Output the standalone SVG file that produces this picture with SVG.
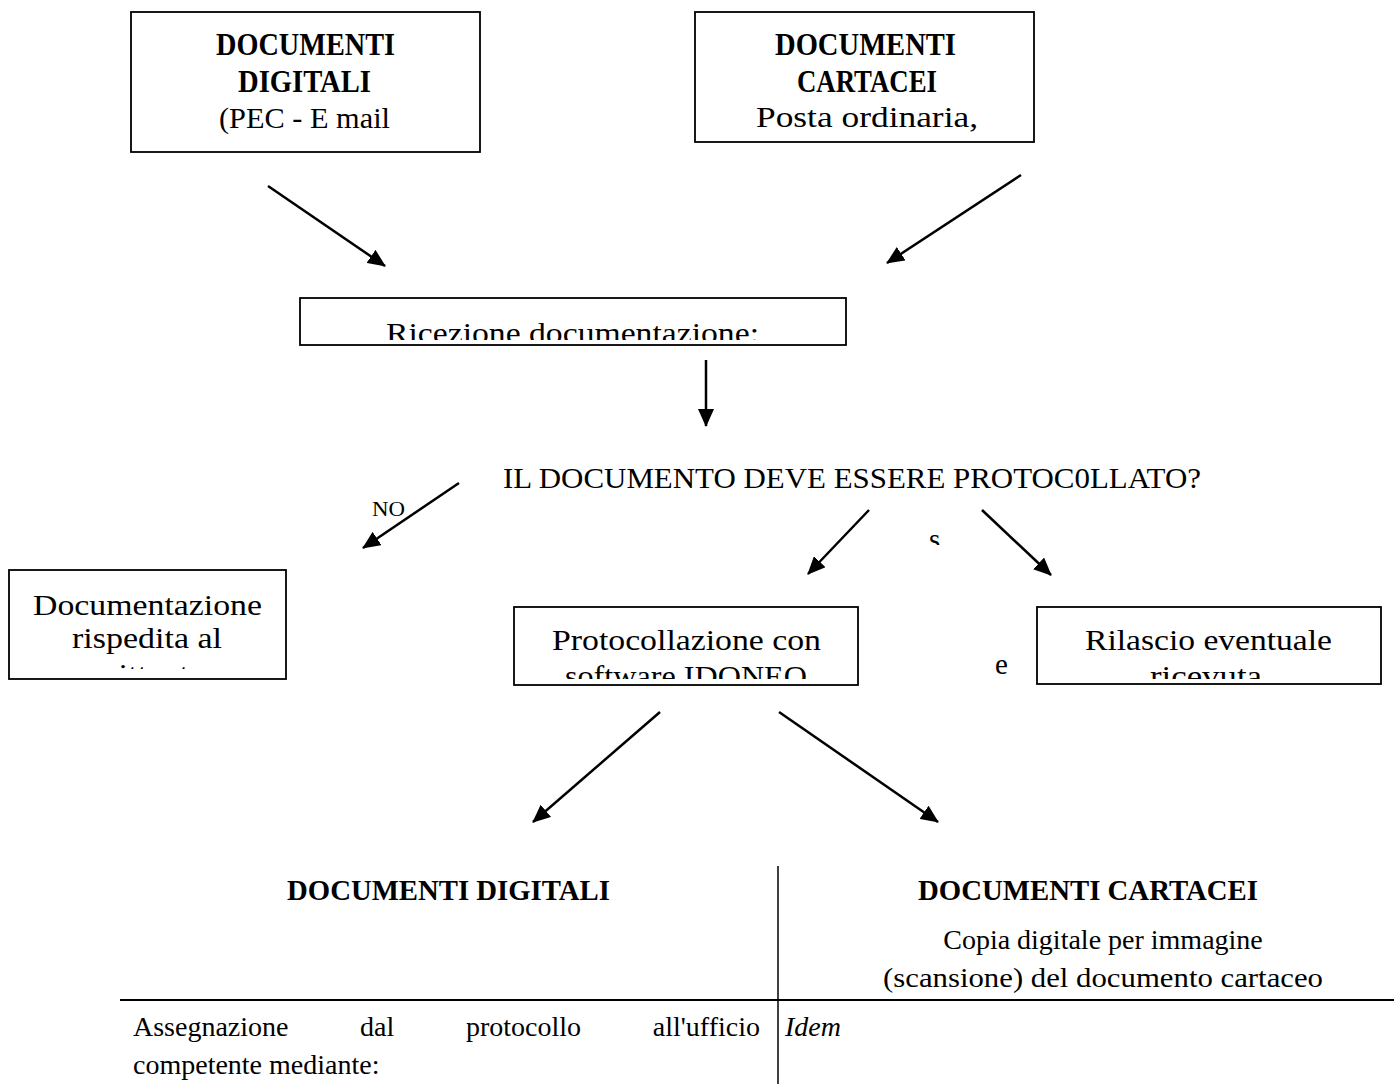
<svg xmlns="http://www.w3.org/2000/svg" width="1394" height="1084" viewBox="0 0 1394 1084">
<style>
.box{fill:#fff;stroke:#000;stroke-width:1.8}
.t{font-family:"Liberation Serif","DejaVu Serif",serif;font-size:29px;fill:#000}
.h{font-size:31px;font-weight:bold}
.tb{font-weight:bold}
.sm{font-size:21px}
.tbl{font-size:28px}
.it{font-style:italic}
.conn{stroke:#000;stroke-width:2.5;fill:none;marker-end:url(#ah)}
.rule{stroke:#000;fill:none}
</style>
<defs>
<marker id="ah" markerUnits="userSpaceOnUse" markerWidth="18" markerHeight="16" refX="17" refY="8" orient="auto">
<path d="M0,0 L18,8 L0,16 z" fill="#000"/>
</marker>
<clipPath id="cRic"><rect x="300" y="298" width="546" height="42"/></clipPath>
<clipPath id="cDoc"><rect x="9" y="570" width="277" height="99"/></clipPath>
<clipPath id="cProt"><rect x="514" y="607" width="344" height="72"/></clipPath>
<clipPath id="cRil"><rect x="1037" y="607" width="344" height="72"/></clipPath>
<clipPath id="cS"><rect x="920" y="530" width="30" height="15"/></clipPath>
</defs>
<rect width="1394" height="1084" fill="#fff"/>

<g id="connectors">
<line class="conn" x1="268" y1="186" x2="385" y2="266"/>
<line class="conn" x1="1021" y1="175" x2="887" y2="263"/>
<line class="conn" x1="706" y1="360" x2="706" y2="426"/>
<line class="conn" x1="459" y1="483" x2="363" y2="548"/>
<line class="conn" x1="869" y1="510" x2="808" y2="574"/>
<line class="conn" x1="982" y1="510" x2="1051" y2="575"/>
<line class="conn" x1="660" y1="712" x2="533" y2="822"/>
<line class="conn" x1="779" y1="712" x2="938" y2="822"/>
</g>

<g id="node-digitali">
<rect class="box" x="131" y="12" width="349" height="140"/>
<text class="t h" x="216" y="55" textLength="179" lengthAdjust="spacingAndGlyphs">DOCUMENTI</text>
<text class="t h" x="238" y="92" textLength="133" lengthAdjust="spacingAndGlyphs">DIGITALI</text>
<text class="t" x="219" y="128" textLength="171" lengthAdjust="spacingAndGlyphs">(PEC - E mail</text>
</g>

<g id="node-cartacei">
<rect class="box" x="695" y="12" width="339" height="130"/>
<text class="t h" x="775" y="55" textLength="181" lengthAdjust="spacingAndGlyphs">DOCUMENTI</text>
<text class="t h" x="797" y="92" textLength="140" lengthAdjust="spacingAndGlyphs">CARTACEI</text>
<text class="t" x="756" y="127" textLength="222" lengthAdjust="spacingAndGlyphs">Posta ordinaria,</text>
</g>

<g id="node-ricezione">
<rect class="box" x="300" y="298" width="546" height="47"/>
<text class="t" x="386" y="343" textLength="373" lengthAdjust="spacingAndGlyphs" clip-path="url(#cRic)">Ricezione documentazione:</text>
</g>

<g id="node-domanda">
<text class="t" x="503" y="488" textLength="698" lengthAdjust="spacingAndGlyphs">IL DOCUMENTO DEVE ESSERE PROTOC0LLATO?</text>
</g>

<g id="label-no">
<text class="t sm" x="372" y="516" textLength="33" lengthAdjust="spacingAndGlyphs">NO</text>
</g>

<g id="label-si">
<text class="t" x="929" y="549" font-size="26" clip-path="url(#cS)">s</text>
</g>

<g id="node-rispedita">
<rect class="box" x="9" y="570" width="277" height="109"/>
<text class="t" x="33" y="615" textLength="229" lengthAdjust="spacingAndGlyphs">Documentazione</text>
<text class="t" x="72" y="648" textLength="150" lengthAdjust="spacingAndGlyphs">rispedita al</text>
<text class="t" x="92" y="684" textLength="112" lengthAdjust="spacingAndGlyphs" clip-path="url(#cDoc)">mittente</text>
</g>

<g id="node-protocollazione">
<rect class="box" x="514" y="607" width="344" height="78"/>
<text class="t" x="552" y="650" textLength="269" lengthAdjust="spacingAndGlyphs">Protocollazione con</text>
<text class="t" x="565" y="686" textLength="242" lengthAdjust="spacingAndGlyphs" clip-path="url(#cProt)">software IDONEO</text>
</g>

<g id="label-e">
<text class="t" x="995" y="674">e</text>
</g>

<g id="node-rilascio">
<rect class="box" x="1037" y="607" width="344" height="77"/>
<text class="t" x="1085" y="650" textLength="247" lengthAdjust="spacingAndGlyphs">Rilascio eventuale</text>
<text class="t" x="1150" y="686" textLength="112" lengthAdjust="spacingAndGlyphs" clip-path="url(#cRil)">ricevuta</text>
</g>

<g id="table">
<line class="rule" x1="778" y1="866" x2="778" y2="1084" stroke-width="1.5"/>
<line class="rule" x1="120" y1="1000" x2="1394" y2="1000" stroke-width="2"/>
<text class="t tb" x="287" y="900" textLength="323" lengthAdjust="spacingAndGlyphs">DOCUMENTI DIGITALI</text>
<text class="t tb" x="918" y="900" textLength="340" lengthAdjust="spacingAndGlyphs">DOCUMENTI CARTACEI</text>
<text class="t tbl" x="1103" y="949" text-anchor="middle">Copia digitale per immagine</text>
<text class="t tbl" x="883" y="987" textLength="440" lengthAdjust="spacingAndGlyphs">(scansione) del documento cartaceo</text>
<text class="t tbl" x="133" y="1036">Assegnazione</text>
<text class="t tbl" x="360" y="1036">dal</text>
<text class="t tbl" x="466" y="1036">protocollo</text>
<text class="t tbl" x="760" y="1036" text-anchor="end">all'ufficio</text>
<text class="t tbl" x="133" y="1074">competente mediante:</text>
<text class="t tbl it" x="785" y="1036">Idem</text>
</g>
</svg>
